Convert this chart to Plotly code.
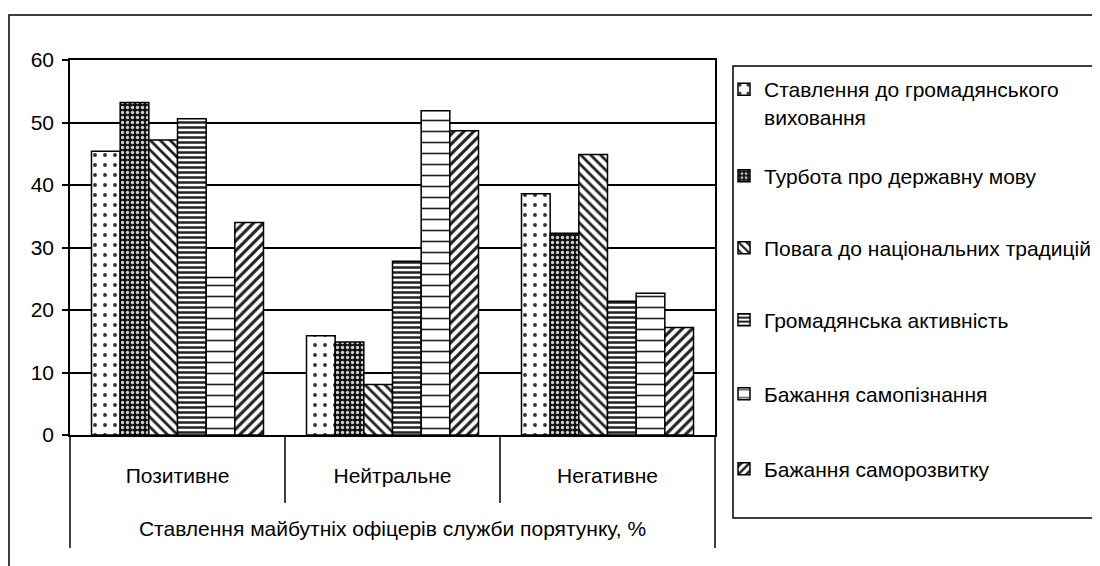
import plotly.graph_objects as go

categories = ["Позитивне", "Нейтральне", "Негативне"]
series_names = [
    "Ставлення до громадянського<br>виховання",
    "Турбота про державну мову",
    "Повага до національних традицій",
    "Громадянська активність",
    "Бажання самопізнання",
    "Бажання саморозвитку",
]
civic_upbringing = [45.4, 15.9, 38.6]
state_language = [53.2, 14.9, 32.3]
national_traditions = [47.2, 8.1, 44.9]
civic_activity = [50.6, 27.8, 21.4]
self_knowledge = [25.2, 51.9, 22.7]
self_development = [34.0, 48.7, 17.2]
series_values = [civic_upbringing, state_language, national_traditions,
                 civic_activity, self_knowledge, self_development]
y_ticks = [0, 10, 20, 30, 40, 50, 60]
axis_title = "Ставлення майбутніх офіцерів служби порятунку, %"

FONT = "Liberation Sans, Arial, sans-serif"
FS = 21
FS_LEG = 21

patterns = [
    dict(shape=".", bgcolor="white", fgcolor="#333333", size=10, solidity=0.12),
    dict(shape=".", bgcolor="#111111", fgcolor="#d0d0d0", size=5, solidity=0.35),
    dict(shape="\\", bgcolor="white", fgcolor="#222222", size=7, solidity=0.4),
    dict(shape="-", bgcolor="white", fgcolor="#222222", size=5, solidity=0.5),
    dict(shape="-", bgcolor="white", fgcolor="#222222", size=11, solidity=0.15),
    dict(shape="/", bgcolor="white", fgcolor="#222222", size=7, solidity=0.45),
]

# page body has an 8px offset; work in screenshot pixels and convert
OFF = 8
W, H = 1100, 566
ml, mr, mt, mb = 70 - OFF, 1100 - (715 - OFF), 60 - OFF, 566 - (435 - OFF)
ph = H - mt - mb
pw = W - ml - mr

def py(p):
    return (H - mb - (p - OFF)) / ph

def px(p):
    return (p - OFF - ml) / pw

legend_centres = [91, 176, 248, 320, 394, 469]

fig = go.Figure()
for i, (name, vals, pat) in enumerate(zip(series_names, series_values, patterns)):
    fig.add_trace(go.Bar(
        x=categories, y=vals, name=name,
        legend="legend" if i == 0 else f"legend{i+1}",
        marker=dict(color=pat["bgcolor"], line=dict(color="black", width=1.5),
                    pattern=dict(shape=pat["shape"], bgcolor=pat["bgcolor"],
                                 fgcolor=pat["fgcolor"], size=pat["size"],
                                 solidity=pat["solidity"], fillmode="replace")),
    ))

layout_legends = {}
for i, c in enumerate(legend_centres):
    key = "legend" if i == 0 else f"legend{i+1}"
    layout_legends[key] = dict(
        x=px(724), xanchor="left",
        y=py(c - 22) if i == 0 else py(c), yanchor="top" if i == 0 else "middle",
        bgcolor="rgba(0,0,0,0)", borderwidth=0, valign="top",
        font=dict(family=FONT, size=FS_LEG, color="black"),
    )

fig.update_layout(
    width=W, height=H,
    margin=dict(l=ml, r=mr, t=mt, b=mb, autoexpand=False),
    paper_bgcolor="white", plot_bgcolor="white",
    barmode="group", bargap=0.2, bargroupgap=0,
    showlegend=True,
    font=dict(family=FONT, size=FS, color="black"),
    **layout_legends,
)

fig.update_yaxes(
    range=[0, 60], tickvals=y_ticks, showgrid=True, gridcolor="black", gridwidth=1.5,
    showline=True, linecolor="black", linewidth=1.5, mirror=True,
    ticks="outside", ticklen=6, tickcolor="black", tickwidth=1.5,
    ticklabelstandoff=4,
    tickfont=dict(family=FONT, size=FS, color="black"), zeroline=False,
)
fig.update_xaxes(
    showline=True, linecolor="black", linewidth=1.5, mirror=True,
    ticks="outside", ticklen=21, tickcolor="rgba(0,0,0,0)",
    tickfont=dict(family=FONT, size=FS, color="black"),
    title=dict(text=axis_title, font=dict(family=FONT, size=FS, color="black"), standoff=35),
)

shapes = []
for xd in (1/3, 2/3):
    shapes.append(dict(type="line", xref="x domain", yref="y domain",
                       x0=xd, x1=xd, y0=0, y1=(435 - 503) / ph,
                       line=dict(color="black", width=1.5)))
for xd in (0, 1):
    shapes.append(dict(type="line", xref="x domain", yref="y domain",
                       x0=xd, x1=xd, y0=0, y1=(435 - 548) / ph,
                       line=dict(color="black", width=1.5)))
shapes.append(dict(type="rect", xref="paper", yref="paper",
                   x0=px(733), x1=px(1120), y0=py(518), y1=py(66),
                   line=dict(color="black", width=1.5), fillcolor="rgba(0,0,0,0)"))
shapes.append(dict(type="rect", xref="paper", yref="paper",
                   x0=px(9), x1=px(1130), y0=py(610), y1=py(15),
                   line=dict(color="black", width=1.5), fillcolor="rgba(0,0,0,0)"))
fig.update_layout(shapes=shapes)

fig.write_html("out.html")
